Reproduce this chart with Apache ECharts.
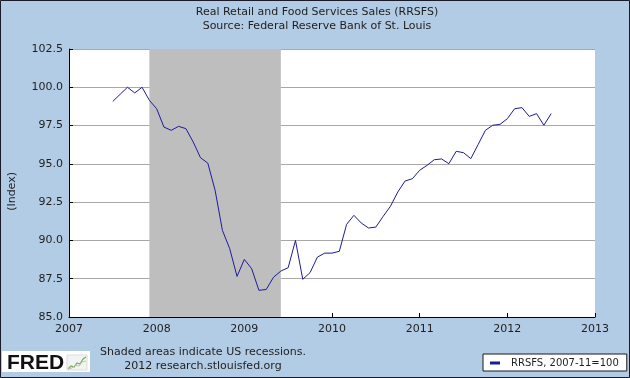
<!DOCTYPE html>
<html>
<head>
<meta charset="utf-8">
<script src="https://cdn.jsdelivr.net/npm/echarts@6/dist/echarts.min.js"></script>
<style>
html,body{margin:0;padding:0;background:#b3cce5;}
#chart{width:630px;height:378px;}
</style>
</head>
<body>
<div id="chart"></div>
<script>
// ---- Data (monthly, RRSFS index 2007-11=100) ----
const months = [
  '2007-07','2007-08','2007-09','2007-10','2007-11','2007-12',
  '2008-01','2008-02','2008-03','2008-04','2008-05','2008-06','2008-07','2008-08','2008-09','2008-10','2008-11','2008-12',
  '2009-01','2009-02','2009-03','2009-04','2009-05','2009-06','2009-07','2009-08','2009-09','2009-10','2009-11','2009-12',
  '2010-01','2010-02','2010-03','2010-04','2010-05','2010-06','2010-07','2010-08','2010-09','2010-10','2010-11','2010-12',
  '2011-01','2011-02','2011-03','2011-04','2011-05','2011-06','2011-07','2011-08','2011-09','2011-10','2011-11','2011-12',
  '2012-01','2012-02','2012-03','2012-04','2012-05','2012-06','2012-07'
];
const rrsfs = [
  99.08, 99.54, 100.0, 99.63, 100.0, 99.15,
  98.60, 97.40, 97.19, 97.45, 97.30, 96.43, 95.40, 95.05, 93.27, 90.66, 89.46, 87.65,
  88.76, 88.16, 86.74, 86.80, 87.60, 88.00, 88.22, 90.00, 87.46, 87.90, 88.91, 89.17,
  89.17, 89.29, 91.05, 91.64, 91.14, 90.81, 90.87, 91.57, 92.23, 93.16, 93.88, 94.03,
  94.58, 94.90, 95.27, 95.32, 95.01, 95.82, 95.73, 95.34, 96.26, 97.19, 97.52, 97.58,
  97.95, 98.60, 98.67, 98.10, 98.28, 97.52, 98.28
];
const recession = ['2007-12', '2009-06'];
const xTicks = [2007, 2008, 2009, 2010, 2011, 2012, 2013];
const yTicks = [85.0, 87.5, 90.0, 92.5, 95.0, 97.5, 100.0, 102.5];
const seriesName = 'RRSFS, 2007-11=100';
const titleLines = ['Real Retail and Food Services Sales (RRSFS)', 'Source: Federal Reserve Bank of St. Louis'];

function toYear(s) {
  const p = s.split('-');
  return Number(p[0]) + (Number(p[1]) - 1) / 12;
}
const lineData = months.map((m, i) => [toYear(m), rrsfs[i]]);

const FONT = 'DejaVu Sans';
const TXT = '#1e1e1e';

const chart = echarts.init(document.getElementById('chart'), null, {renderer: 'canvas'});
chart.setOption({
  backgroundColor: '#b3cce5',
  animation: false,
  grid: {
    left: 69, right: 35, top: 49, bottom: 61,
    show: true, backgroundColor: '#ffffff', borderWidth: 0
  },
  legend: {
    show: true,
    left: 483, top: 354,
    padding: [4, 8, 3, 7],
    backgroundColor: '#ffffff',
    borderColor: '#1a1a1a', borderWidth: 1,
    borderRadius: 0,
    itemWidth: 10, itemHeight: 3, itemGap: 0,
    icon: 'rect',
    textStyle: {fontFamily: FONT, fontSize: 10, color: TXT, padding: [0, 0, 0, 6]},
    data: [{name: seriesName, icon: 'rect'}]
  },
  xAxis: {
    type: 'value',
    min: xTicks[0], max: xTicks[xTicks.length - 1], interval: 1,
    axisLine: {show: true, onZero: false, lineStyle: {color: '#000', width: 1}},
    axisTick: {show: true, inside: true, length: 4, lineStyle: {color: '#000'}},
    axisLabel: {fontFamily: FONT, fontSize: 11, color: TXT, margin: 7, formatter: v => String(v)},
    splitLine: {show: false}
  },
  yAxis: {
    type: 'value',
    min: yTicks[0], max: yTicks[yTicks.length - 1], interval: 2.5,
    axisLine: {show: true, lineStyle: {color: '#000', width: 1}},
    axisTick: {show: true, inside: true, length: 4, lineStyle: {color: '#000'}},
    axisLabel: {fontFamily: FONT, fontSize: 11, color: TXT, margin: 6, formatter: v => v.toFixed(1)},
    splitLine: {show: true, lineStyle: {color: '#a8a8a8', width: 1}}
  },
  series: [{
    name: seriesName,
    type: 'line',
    data: lineData,
    showSymbol: false,
    symbol: 'none',
    color: '#1c1c9a',
    lineStyle: {color: '#1c1c9a', width: 1},
    z: 3,
    markArea: {
      silent: true,
      itemStyle: {color: '#bebebe', opacity: 1},
      data: [[{xAxis: toYear(recession[0])}, {xAxis: toYear(recession[1])}]]
    }
  }],
  graphic: [
    {type: 'rect', silent: true, z: 100,
     shape: {x: 0.5, y: 0.5, width: 629, height: 377},
     style: {fill: 'none', stroke: '#1a1a2a', lineWidth: 1}},
    {type: 'text', silent: true, x: 317, y: 12,
     style: {text: titleLines[0], font: '11px "DejaVu Sans"', fill: TXT, align: 'center', verticalAlign: 'middle'}},
    {type: 'text', silent: true, x: 317, y: 26,
     style: {text: titleLines[1], font: '11px "DejaVu Sans"', fill: TXT, align: 'center', verticalAlign: 'middle'}},
    {type: 'text', silent: true, left: 7, top: 172, rotation: Math.PI / 2,
     style: {text: '(Index)', font: '11px "DejaVu Sans"', fill: TXT}},
    {type: 'text', silent: true, x: 203, y: 345,
     style: {text: 'Shaded areas indicate US recessions.\n2012 research.stlouisfed.org',
             font: '11px "DejaVu Sans"', fill: TXT, align: 'center', lineHeight: 14}},
    {type: 'group', silent: true, x: 2, y: 351, children: [
      {type: 'rect', shape: {x: 0, y: 0, width: 88, height: 21}, style: {fill: '#ffffff'}},
      {type: 'text', x: 5, y: 2,
       style: {text: 'FRED', font: 'bold 21px "Liberation Sans"', fill: '#111111'}},
      {type: 'rect', shape: {x: 65, y: 4, width: 20, height: 15}, style: {fill: '#f3f3f3', stroke: '#dddddd', lineWidth: 1}},
      {type: 'polyline', shape: {points: [[66,18],[69,15],[72,16],[75,12],[78,13],[81,8],[84,6]]},
       style: {stroke: '#7aa86a', lineWidth: 1.2, fill: 'none'}},
      {type: 'polyline', shape: {points: [[66,18],[70,17],[73,14],[77,15],[80,11],[84,10]]},
       style: {stroke: '#b8c8b0', lineWidth: 1, fill: 'none'}}
    ]}
  ]
});
</script>
</body>
</html>
